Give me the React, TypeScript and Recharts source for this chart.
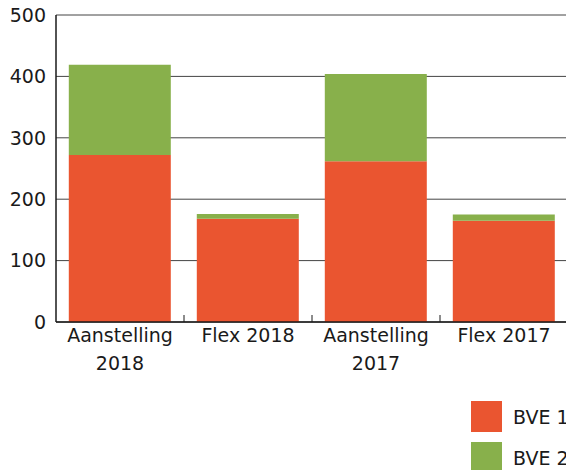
import { BarChart, Bar, XAxis, YAxis, CartesianGrid, Text } from 'recharts'

const categories = ['Aanstelling 2018', 'Flex 2018', 'Aanstelling 2017', 'Flex 2017']
const bve1 = [272, 168, 262, 165]
const bve2 = [147, 8, 142, 10]
const yTicks = [0, 100, 200, 300, 400, 500]

const SERIES = [
  { key: 'bve1', name: 'BVE 1', color: '#EA5530' },
  { key: 'bve2', name: 'BVE 2', color: '#88B04B' },
]

const FONT = '"DejaVu Sans", sans-serif'
const INK = '#1a1a1a'
const FS = 19

const data = categories.map((name, i) => ({ name, bve1: bve1[i], bve2: bve2[i] }))

function CategoryTick({ x, y, payload, index, width, visibleTicksCount }: any) {
  const half = width / visibleTicksCount / 2
  return (
    <g>
      {index > 0 && <line x1={x - half} x2={x - half} y1={y} y2={y - 7} stroke={INK} strokeWidth={1} />}
      <Text
        x={x}
        y={y + 7}
        width={118}
        textAnchor="middle"
        verticalAnchor="start"
        lineHeight="1.47em"
        fontSize={FS}
        fontFamily={FONT}
        style={{ fontSize: FS, fontFamily: FONT }}
        fill={INK}
      >
        {payload.value}
      </Text>
    </g>
  )
}

export default function App() {
  return (
    <div style={{ position: 'absolute', left: 0, top: 0, width: 566, height: 470, overflow: 'hidden', background: '#fff' }}>
      <BarChart
        width={568}
        height={470}
        data={data}
        margin={{ top: 15, right: 0, bottom: 0, left: 0 }}
        barCategoryGap="10%"
      >
        <CartesianGrid vertical={false} stroke="#444" strokeWidth={1} />
        <XAxis
          dataKey="name"
          interval={0}
          height={148}
          axisLine={{ stroke: INK, strokeWidth: 1.5 }}
          tickLine={false}
          tickSize={0}
          tickMargin={0}
          tick={<CategoryTick />}
        />
        <YAxis
          width={56}
          domain={[0, 500]}
          ticks={yTicks}
          axisLine={{ stroke: INK, strokeWidth: 1.5 }}
          tickLine={false}
          tickSize={0}
          tickMargin={10}
          tick={{ fontSize: FS, fontFamily: FONT, fill: INK }}
        />
        {SERIES.map((s) => (
          <Bar key={s.key} dataKey={s.key} name={s.name} stackId="a" fill={s.color} isAnimationActive={false} />
        ))}
      </BarChart>
      <div style={{ position: 'absolute', left: 471, top: 401, fontFamily: FONT, fontSize: FS, color: INK }}>
        {SERIES.map((s) => (
          <div key={s.key} style={{ display: 'flex', alignItems: 'center', height: 31, marginBottom: 10, whiteSpace: 'nowrap' }}>
            <span style={{ width: 31, height: 31, background: s.color, display: 'inline-block', marginRight: 11 }} />
            <span>{s.name}</span>
          </div>
        ))}
      </div>
    </div>
  )
}
